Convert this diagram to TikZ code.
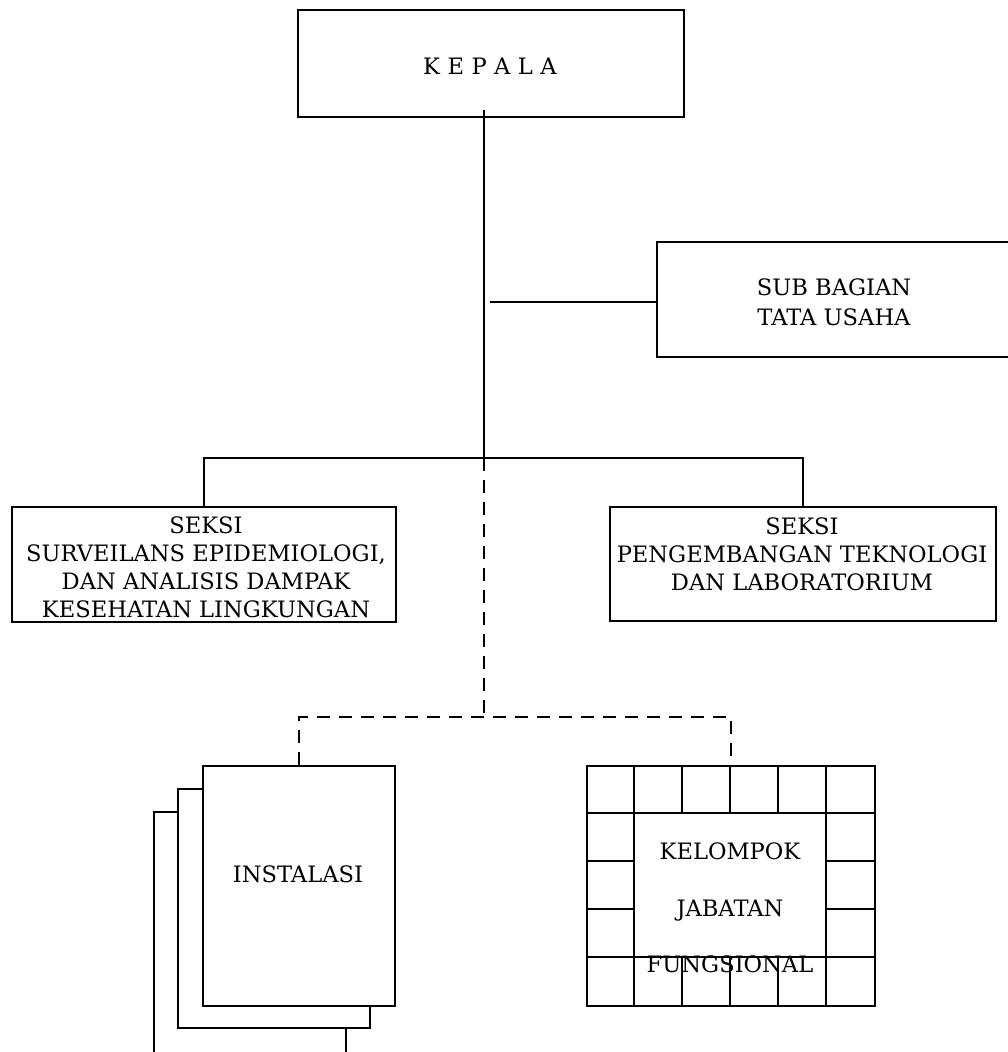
\documentclass[tikz,border=0pt]{standalone}
\usepackage{fontspec}
\setmainfont{DejaVu Serif}
\begin{document}
\begin{tikzpicture}[x=1pt,y=-1pt,
  box/.style={draw, line width=2.4pt, inner sep=0pt, anchor=north west, fill=white},
  page/.style={draw, line width=2pt, fill=white},
  conn/.style={line width=1.8pt},
  dconn/.style={line width=1.8pt, dash pattern=on 13pt off 9pt},
  gridline/.style={line width=1.8pt},
  lbl/.style={align=center, inner sep=0pt, font=\fontsize{22.6}{28}\selectfont}]
\useasboundingbox (0,0) rectangle (1008,1052);
\clip (0,0) rectangle (1008,1052);

% boxes
\node[box, minimum width=386pt, minimum height=107pt] (kep) at (297,9) {};
\node[box, minimum width=360pt, minimum height=115pt] (sub) at (656,241) {};
\node[box, minimum width=384pt, minimum height=115pt] (s1) at (11,506) {};
\node[box, minimum width=386pt, minimum height=114pt] (s2) at (609,506) {};

% instalasi stacked pages
\draw[page] (154,812) rectangle (346,1080);
\draw[page] (178,789) rectangle (370,1028);
\node[box, line width=2pt, minimum width=192pt, minimum height=240pt] (inst) at (202,765) {};

% grid box
\node[box, line width=2pt, minimum width=288pt, minimum height=240pt] (grid) at (586,765) {};
\foreach \x in {634,682,730,778,826} {
  \draw[gridline] (\x,765) -- (\x,813);
  \draw[gridline] (\x,957) -- (\x,1005);
}
\draw[gridline] (586,813) -- (874,813);
\draw[gridline] (586,957) -- (874,957);
\draw[gridline] (634,813) -- (634,957);
\draw[gridline] (826,813) -- (826,957);
\foreach \y in {861,909} {
  \draw[gridline] (586,\y) -- (634,\y);
  \draw[gridline] (826,\y) -- (874,\y);
}

% connector points
\coordinate (ktop) at (484,110);
\coordinate (j1) at (484,458);
\coordinate (j2) at (484,717);
\coordinate (sb) at (490,302);

% connectors
\draw[conn] (ktop) -- (j1);
\draw[conn] (sb) -- (sub.west |- sb);
\draw[conn] (s1.north) |- (j1) -| (s2.north);
\draw[dconn] (j1) -- (j2);
\draw[dconn] (inst.north) |- (j2) -| (grid.north);

% labels
\node[lbl] at (490,66) {K\hspace{0.33em}E\hspace{0.33em}P\hspace{0.33em}A\hspace{0.33em}L\hspace{0.33em}A};
\node[lbl, font=\fontsize{22.6}{30}\selectfont] at (834,302) {SUB BAGIAN\\TATA USAHA};
\node[lbl] at (206,567) {SEKSI\\SURVEILANS EPIDEMIOLOGI,\\DAN ANALISIS DAMPAK\\KESEHATAN LINGKUNGAN};
\node[lbl] at (802,554) {SEKSI\\PENGEMBANGAN TEKNOLOGI\\DAN LABORATORIUM};
\node[lbl] at (298,874) {INSTALASI};
\node[lbl, font=\fontsize{22.6}{56.5}\selectfont] at (730,908) {KELOMPOK\\JABATAN\\FUNGSIONAL};
\end{tikzpicture}
\end{document}
